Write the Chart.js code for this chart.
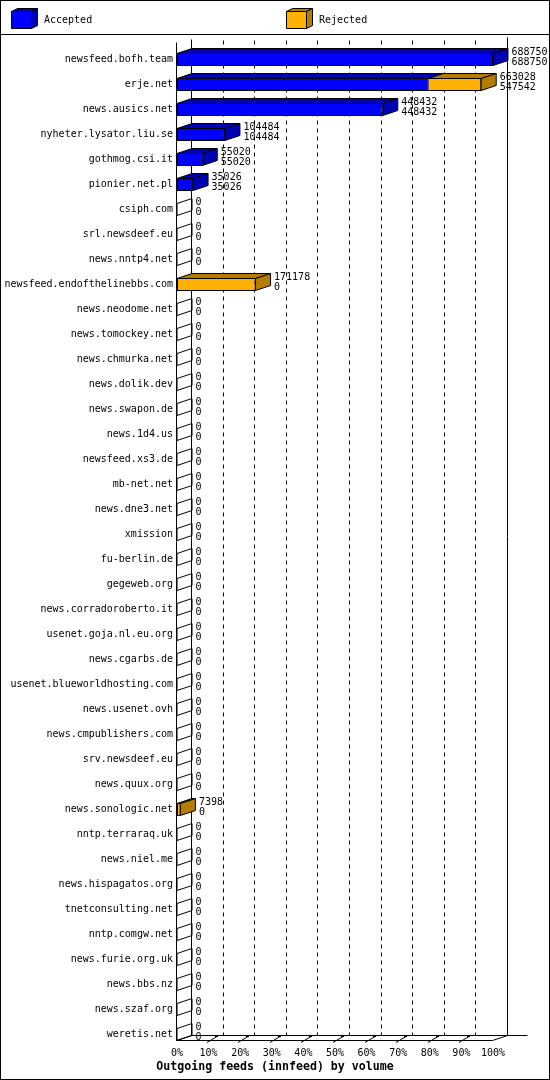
<!DOCTYPE html>
<html>
<head>
<meta charset="utf-8">
<title>Outgoing feeds (innfeed) by volume</title>
<script src="https://cdn.jsdelivr.net/npm/chart.js@4.4.1/dist/chart.umd.min.js"></script>
<style>
  html, body { margin: 0; padding: 0; background: #fff; }
  #wrap { width: 550px; height: 1080px; }
</style>
</head>
<body>
<div id="wrap"><canvas id="chart" width="550" height="1080"></canvas></div>
<script>
// data
const hosts = [
  'newsfeed.bofh.team', 'erje.net', 'news.ausics.net', 'nyheter.lysator.liu.se', 'gothmog.csi.it',
  'pionier.net.pl', 'csiph.com', 'srl.newsdeef.eu', 'news.nntp4.net', 'newsfeed.endofthelinebbs.com',
  'news.neodome.net', 'news.tomockey.net', 'news.chmurka.net', 'news.dolik.dev', 'news.swapon.de',
  'news.1d4.us', 'newsfeed.xs3.de', 'mb-net.net', 'news.dne3.net', 'xmission',
  'fu-berlin.de', 'gegeweb.org', 'news.corradoroberto.it', 'usenet.goja.nl.eu.org', 'news.cgarbs.de',
  'usenet.blueworldhosting.com', 'news.usenet.ovh', 'news.cmpublishers.com', 'srv.newsdeef.eu', 'news.quux.org',
  'news.sonologic.net', 'nntp.terraraq.uk', 'news.niel.me', 'news.hispagatos.org', 'tnetconsulting.net',
  'nntp.comgw.net', 'news.furie.org.uk', 'news.bbs.nz', 'news.szaf.org', 'weretis.net'
];

const accepted = [
  688750, 547542, 448432, 104484, 55020, 35026, 0, 0, 0, 0,
  0, 0, 0, 0, 0, 0, 0, 0, 0, 0,
  0, 0, 0, 0, 0, 0, 0, 0, 0, 0,
  0, 0, 0, 0, 0, 0, 0, 0, 0, 0
];

const rejected = [
  0, 115486, 0, 0, 0, 0, 0, 0, 0, 171178,
  0, 0, 0, 0, 0, 0, 0, 0, 0, 0,
  0, 0, 0, 0, 0, 0, 0, 0, 0, 0,
  7398, 0, 0, 0, 0, 0, 0, 0, 0, 0
];

const xTickLabels = ['0%', '10%', '20%', '30%', '40%', '50%', '60%', '70%', '80%', '90%', '100%'];

const totals = accepted.map((a, i) => a + rejected[i]);
const xMax = Math.max(...totals);

const MONO = "'DejaVu Sans Mono', 'Liberation Mono', monospace";
const DX = 15, DY = 5;   // 3d depth

function line(ctx, x1, y1, x2, y2) {
  ctx.beginPath();
  ctx.moveTo(x1, y1);
  ctx.lineTo(x2, y2);
  ctx.stroke();
}

function poly(ctx, pts, fill) {
  ctx.beginPath();
  ctx.moveTo(pts[0][0], pts[0][1]);
  for (let i = 1; i < pts.length; i++) ctx.lineTo(pts[i][0], pts[i][1]);
  ctx.closePath();
  if (fill) { ctx.fillStyle = fill; ctx.fill(); }
  ctx.stroke();
}

// back walls, dashed grid and floor
const walls3d = {
  id: 'walls3d',
  beforeDatasetsDraw(chart) {
    const { ctx, chartArea, scales: { x } } = chart;
    const x0 = Math.round(x.getPixelForValue(0)) - 0.5;
    const x1 = Math.round(x.getPixelForValue(xMax)) - 0.5;
    const yF = chartArea.bottom - 6.5;
    const yTop = chartArea.top - 4.5;
    ctx.save();
    ctx.strokeStyle = '#000';
    ctx.lineWidth = 1;

    ctx.setLineDash([4, 4]);
    x.ticks.forEach((t, i) => {
      if (i === 0 || i === x.ticks.length - 1) return;
      const px = Math.round(x.getPixelForValue(t.value) + DX) - 0.5;
      line(ctx, px, yTop - DY + 3, px, yF - DY);
    });
    ctx.setLineDash([]);

    line(ctx, x0 + DX, yTop - DY + 2, x0 + DX, yF - DY);
    line(ctx, x1 + DX, yTop - DY, x1 + DX, yF - DY);
    line(ctx, x0 + DX, yF - DY, x1 + DX + 20, yF - DY);
    line(ctx, x0, yF, x1, yF);
    line(ctx, x0, yF, x0 + DX, yF - DY);
    line(ctx, x1, yF, x1 + DX, yF - DY);
    line(ctx, x0, yTop, x0, yF);

    // little floor ticks
    ctx.fillStyle = '#000';
    x.ticks.forEach((t, i) => {
      if (i === 0 || i === x.ticks.length - 1) return;
      const px = Math.round(x.getPixelForValue(t.value));
      line(ctx, px - 2, yF + 2, px + 8, yF - 4);
      ctx.fillRect(px + 6, yF - 5.5, 3, 2);
    });
    ctx.restore();
  },

  // top and side faces plus value labels
  afterDatasetsDraw(chart) {
    const { ctx } = chart;
    const metas = chart.data.datasets.map((ds, i) => chart.getDatasetMeta(i));
    ctx.save();
    ctx.strokeStyle = '#000';
    ctx.lineWidth = 1;
    ctx.lineJoin = 'miter';
    hosts.forEach((h, i) => {
      const first = metas[0].data[i];
      const yT = first.y - first.height / 2 + 0.5;
      const yB = first.y + first.height / 2 - 0.5;
      let xe = first.base;
      let side = null;
      metas.forEach((m, d) => {
        const el = m.data[i];
        const a = Math.min(el.base, el.x), b = Math.max(el.base, el.x);
        if (b - a < 0.5) return;
        const dark = chart.data.datasets[d].sideColor;
        poly(ctx, [[a, yT], [b, yT], [b + DX, yT - DY], [a + DX, yT - DY]], dark);
        xe = b;
        side = dark;
      });
      poly(ctx, [[xe, yT], [xe + DX, yT - DY], [xe + DX, yB - DY], [xe, yB]], side);

      ctx.fillStyle = '#000';
      ctx.font = '10px ' + MONO;
      ctx.textAlign = 'left';
      ctx.textBaseline = 'alphabetic';
      ctx.fillText(String(totals[i]), xe + DX + 3.5, first.y - 5);
      ctx.fillText(String(accepted[i]), xe + DX + 3.5, first.y + 5.5);
    });
    ctx.restore();
  },

  // frame and legend
  afterDraw(chart) {
    const { ctx, width, height } = chart;
    ctx.save();
    ctx.strokeStyle = '#000';
    ctx.lineWidth = 1;
    ctx.strokeRect(0.5, 0.5, width - 1, height - 1);
    line(ctx, 0, 34.5, width, 34.5);

    chart.data.datasets.forEach((ds, i) => {
      const bx = 11.5 + i * 275, by = 11.5;
      poly(ctx, [[bx, by], [bx + 20, by], [bx + 26, by - 3], [bx + 6, by - 3]], ds.sideColor);
      poly(ctx, [[bx + 20, by], [bx + 26, by - 3], [bx + 26, by + 14], [bx + 20, by + 17]], ds.sideColor);
      poly(ctx, [[bx, by], [bx + 20, by], [bx + 20, by + 17], [bx, by + 17]], ds.backgroundColor);
      ctx.fillStyle = '#000';
      ctx.font = '10px ' + MONO;
      ctx.textAlign = 'left';
      ctx.textBaseline = 'middle';
      ctx.fillText(ds.label, bx + 32.5, 20);
    });
    ctx.restore();
  }
};

Chart.defaults.font.family = MONO;
Chart.defaults.font.size = 10;
Chart.defaults.color = '#000';

const ctx = document.getElementById('chart').getContext('2d');
new Chart(ctx, {
  type: 'bar',
  data: {
    labels: hosts,
    datasets: [{
      label: 'Accepted',
      data: accepted,
      backgroundColor: '#0000FF',
      sideColor: '#0000B4',
      borderColor: '#000',
      borderWidth: 1,
      borderSkipped: false
    }, {
      label: 'Rejected',
      data: rejected,
      backgroundColor: '#FFB000',
      sideColor: '#B47C00',
      borderColor: '#000',
      borderWidth: 1,
      borderSkipped: false
    }]
  },
  options: {
    indexAxis: 'y',
    responsive: false,
    animation: false,
    devicePixelRatio: 1,
    layout: { padding: { top: 47, right: 0, bottom: 0, left: 0 } },
    datasets: { bar: { barPercentage: 0.52, categoryPercentage: 1 } },
    plugins: {
      legend: { display: false },
      tooltip: { enabled: false },
      title: {
        display: true,
        position: 'bottom',
        text: 'Outgoing feeds (innfeed) by volume',
        color: '#000',
        font: { family: MONO, size: 11.6, weight: 'bold' },
        padding: { top: 0, bottom: 6 }
      }
    },
    scales: {
      x: {
        stacked: true,
        min: 0,
        max: xMax,
        grid: { display: false, drawTicks: false },
        border: { display: false },
        ticks: {
          stepSize: xMax / 10,
          padding: 0,
          maxRotation: 0,
          autoSkip: false,
          callback: (v, i) => xTickLabels[i]
        },
        afterFit: (s) => { s.height = 13.08; }
      },
      y: {
        stacked: true,
        grid: { display: false, drawTicks: false },
        border: { display: false },
        ticks: { padding: 4, autoSkip: false },
        afterFit: (s) => { s.width = 177; }
      },
      // empty right-hand axis that keeps room for the value labels
      yRight: {
        type: 'category',
        position: 'right',
        grid: { display: false, drawTicks: false },
        border: { display: false },
        ticks: { display: false },
        afterFit: (s) => { s.width = 57; }
      }
    }
  },
  plugins: [walls3d]
});
</script>
</body>
</html>
